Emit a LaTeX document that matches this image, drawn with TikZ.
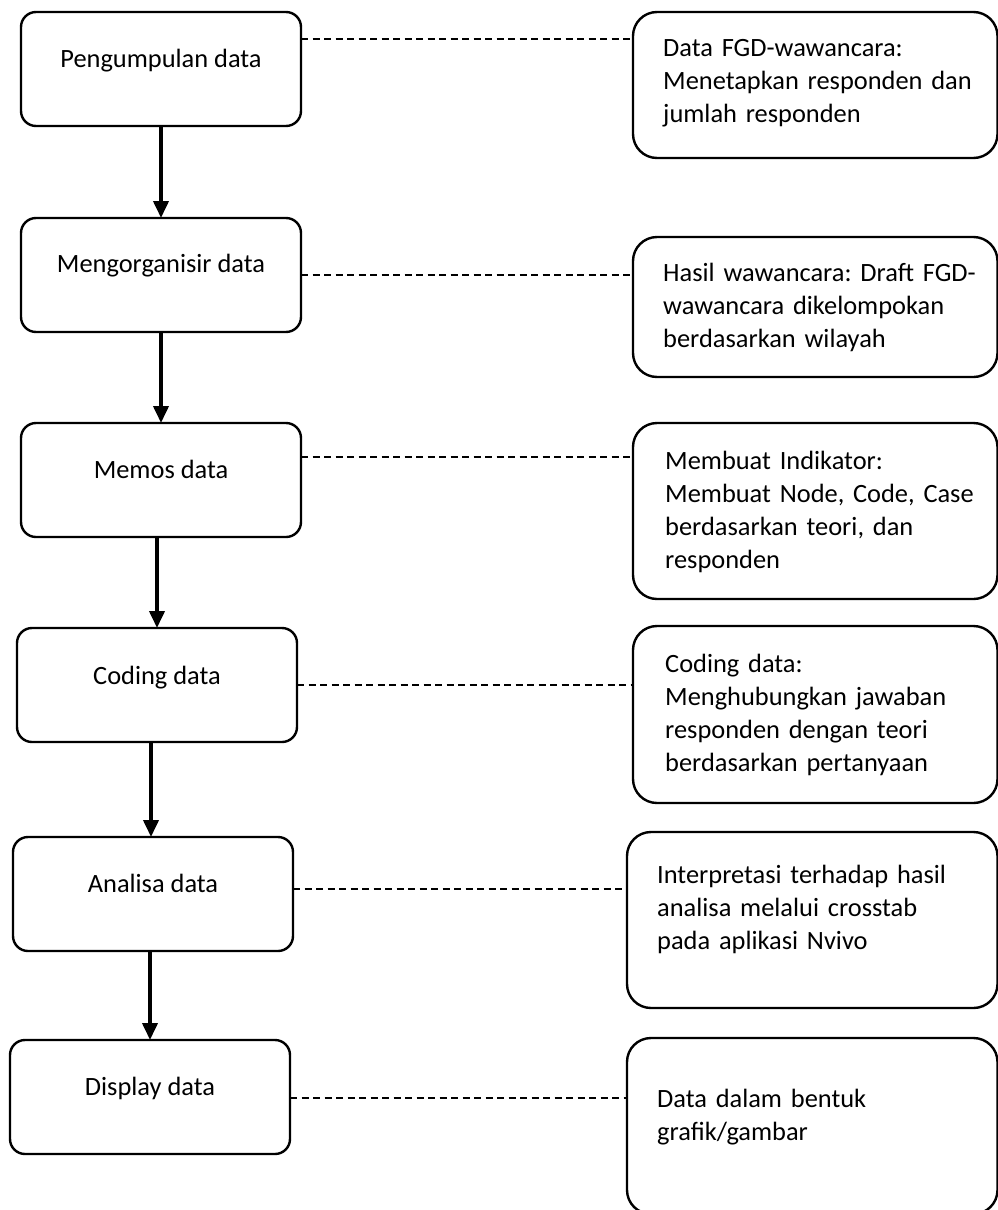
\documentclass[tikz,border=0pt]{standalone}
\usepackage{fontspec}
\setmainfont{Carlito}
\usetikzlibrary{arrows.meta,calc}
\begin{document}
\frenchspacing
\begin{tikzpicture}[x=1pt,y=-1pt,
  lbox/.style={draw=black, line width=2.4pt, rounded corners=15pt, rectangle, inner sep=0pt, outer sep=0pt, anchor=north west, minimum width=280pt, minimum height=114pt},
  rbox/.style={draw=black, line width=2.4pt, rounded corners=24pt, rectangle, inner sep=0pt, outer sep=0pt, anchor=north west},
  ltext/.style={anchor=base, inner sep=0pt, font=\fontsize{26.4}{33.3}\selectfont},
  rtext/.style={anchor=base west, inner sep=0pt, text width=340pt, font=\fontsize{26.4}{33.3}\selectfont\frenchspacing},
  flow/.style={line width=3.8pt, -{Triangle[width=15pt,length=17pt]}},
  link/.style={line width=1.5pt, dash pattern=on 7pt off 4.5pt}
]
\useasboundingbox (0,0) rectangle (997,1210);
\fill[white] (0,0) rectangle (997,1210);

% left boxes
\node[lbox] (b1) at (21,12) {};
\node[lbox] (b2) at (21,218) {};
\node[lbox] (b3) at (21,423) {};
\node[lbox] (b4) at (17,628) {};
\node[lbox] (b5) at (13,837) {};
\node[lbox] (b6) at (10,1040) {};

\node[ltext] (t1) at ([yshift=-55pt]b1.north) {Pengumpulan data};
\node[ltext] (t2) at ([yshift=-54pt]b2.north) {Mengorganisir data};
\node[ltext] (t3) at ([yshift=-55pt]b3.north) {Memos data};
\node[ltext] (t4) at ([yshift=-56pt]b4.north) {Coding data};
\node[ltext] (t5) at ([yshift=-55pt]b5.north) {Analisa data};
\node[ltext] (t6) at ([yshift=-55pt]b6.north) {Display data};

% right boxes
\node[rbox, minimum width=364.5pt, minimum height=146pt] (r1) at (633,12) {};
\node[rbox, minimum width=364.5pt, minimum height=140pt] (r2) at (633,237) {};
\node[rbox, minimum width=364.5pt, minimum height=176pt] (r3) at (633,423) {};
\node[rbox, minimum width=364.5pt, minimum height=177pt] (r4) at (633,626) {};
\node[rbox, minimum width=370.5pt, minimum height=176pt] (r5) at (627,832) {};
\node[rbox, minimum width=370.5pt, minimum height=176pt] (r6) at (627,1038) {};

\node[rtext] (s1) at ([xshift=30pt,yshift=-44pt]r1.north west) {\raggedright Data FGD-wawancara:\\Menetapkan responden dan\\jumlah responden};
\node[rtext] (s2) at ([xshift=30pt,yshift=-44pt]r2.north west) {\raggedright Hasil wawancara: Draft FGD-\\wawancara dikelompokan\\berdasarkan wilayah};
\node[rtext] (s3) at ([xshift=32pt,yshift=-46pt]r3.north west) {\raggedright Membuat Indikator:\\Membuat Node, Code, Case\\berdasarkan teori, dan\\responden};
\node[rtext] (s4) at ([xshift=32pt,yshift=-46pt]r4.north west) {\raggedright Coding data:\\Menghubungkan jawaban\\responden dengan teori\\berdasarkan pertanyaan};
\node[rtext] (s5) at ([xshift=30pt,yshift=-51pt]r5.north west) {\raggedright Interpretasi terhadap hasil\\analisa melalui crosstab\\pada aplikasi Nvivo};
\node[rtext] (s6) at ([xshift=30pt,yshift=-69pt]r6.north west) {\raggedright Data dalam bentuk\\grafik/gambar};

% flow arrows
\draw[flow] (b1.south) -- (b2.north);
\draw[flow] (b2.south) -- (b3.north);
\draw[flow] (b4.north |- b3.south) -- (b4.north);
\draw[flow] ($(b5.north |- b4.south)+(-2,0)$) -- ($(b5.north)+(-2,0)$);
\draw[flow] (b6.north |- b5.south) -- (b6.north);

% dashed links
\coordinate (d1) at ([yshift=-27pt]b1.north east);
\coordinate (d2) at ([yshift=-57pt]b2.north east);
\coordinate (d3) at ([yshift=-34pt]b3.north east);
\coordinate (d4) at ([yshift=-57pt]b4.north east);
\coordinate (d5) at ([yshift=-52pt]b5.north east);
\coordinate (d6) at ([yshift=-58pt]b6.north east);
\draw[link] (d1) -- (d1 -| r1.west);
\draw[link] (d2) -- (d2 -| r2.west);
\draw[link] (d3) -- (d3 -| r3.west);
\draw[link] (d4) -- (d4 -| r4.west);
\draw[link] (d5) -- (d5 -| r5.west);
\draw[link] (d6) -- (d6 -| r6.west);
\end{tikzpicture}
\end{document}
